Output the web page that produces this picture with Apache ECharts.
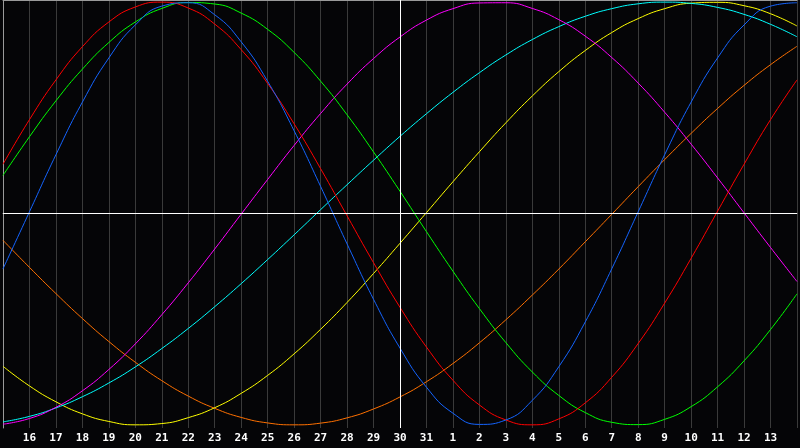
<!DOCTYPE html>
<html>
<head>
<meta charset="utf-8">
<script src="https://cdn.jsdelivr.net/npm/echarts@6/dist/echarts.min.js"></script>
<style>
html,body{margin:0;padding:0;background:#050507;}
#chart{width:800px;height:448px;}
</style>
</head>
<body>
<div id="chart"></div>
<script>
// Day labels along the x axis (left edge = 15, right edge = 14 of next month)
var dayLabels = ['15','16','17','18','19','20','21','22','23','24','25','26','27','28','29','30','31',
                 '1','2','3','4','5','6','7','8','9','10','11','12','13','14'];
var todayLabel = '30';

// Values at each day grid line (-1 .. 1)
var blueValues = [-0.262,0.008,0.278,0.527,0.736,0.892,0.981,0.997,0.940,0.812,0.625,0.391,0.128,-0.144,-0.406,-0.637,-0.822,-0.945,-0.998,-0.977,-0.884,-0.725,-0.513,-0.262,0.008,0.278,0.527,0.736,0.892,0.981,0.997];
var redValues = [0.233,0.444,0.632,0.789,0.906,0.977,1.000,0.972,0.896,0.775,0.615,0.424,0.212,-0.011,-0.233,-0.444,-0.632,-0.789,-0.906,-0.977,-1.000,-0.972,-0.896,-0.775,-0.615,-0.424,-0.212,0.011,0.233,0.444,0.632];
var greenValues = [0.180,0.363,0.533,0.683,0.809,0.906,0.970,0.998,0.991,0.948,0.871,0.762,0.626,0.467,0.291,0.105,-0.086,-0.273,-0.450,-0.611,-0.750,-0.861,-0.942,-0.988,-0.999,-0.974,-0.914,-0.820,-0.697,-0.549,-0.380];
var magentaValues = [-0.997,-0.970,-0.917,-0.839,-0.738,-0.617,-0.479,-0.328,-0.168,-0.003,0.161,0.322,0.473,0.612,0.733,0.835,0.915,0.969,0.996,0.997,0.970,0.917,0.839,0.738,0.617,0.479,0.328,0.168,0.003,-0.161,-0.322];
var yellowValues = [-0.723,-0.816,-0.891,-0.948,-0.984,-1.000,-0.994,-0.966,-0.919,-0.851,-0.766,-0.664,-0.548,-0.421,-0.284,-0.141,0.004,0.150,0.292,0.429,0.556,0.671,0.771,0.856,0.922,0.969,0.995,0.999,0.983,0.945,0.887];
var orangeValues = [-0.127,-0.255,-0.379,-0.497,-0.606,-0.704,-0.791,-0.864,-0.922,-0.965,-0.991,-1.000,-0.992,-0.967,-0.925,-0.868,-0.796,-0.710,-0.612,-0.503,-0.386,-0.263,-0.134,-0.004,0.127,0.255,0.379,0.497,0.606,0.704,0.791];
var cyanValues = [-0.986,-0.960,-0.920,-0.867,-0.802,-0.726,-0.639,-0.544,-0.441,-0.332,-0.218,-0.101,0.018,0.136,0.252,0.365,0.472,0.573,0.666,0.750,0.823,0.884,0.933,0.969,0.992,1.000,0.994,0.975,0.942,0.895,0.836];

function lineSeries(name, data, color) {
  return {
    name: name, type: 'line', data: data, smooth: true, symbol: 'none',
    lineStyle: { color: color, width: 1 }, silent: true, animation: false
  };
}

var chart = echarts.init(document.getElementById('chart'));
var series = [
  lineSeries('orange', orangeValues, '#ff7000'),
  lineSeries('yellow', yellowValues, '#ffff00'),
  lineSeries('cyan', cyanValues, '#00ffff'),
  lineSeries('magenta', magentaValues, '#ff00ff'),
  lineSeries('green', greenValues, '#00ff00'),
  lineSeries('red', redValues, '#ff0000'),
  lineSeries('blue', blueValues, '#1464ff')
];
series[0].markLine = {
  silent: true, symbol: 'none', animation: false,
  label: { show: false },
  lineStyle: { color: '#ffffff', width: 1, type: 'solid' },
  data: [{ yAxis: 0 }, { xAxis: todayLabel }]
};

chart.setOption({
  backgroundColor: '#050507',
  animation: false,
  grid: { left: 0, right: 0, top: 0, bottom: 20 },
  xAxis: [{
    type: 'category', data: dayLabels, boundaryGap: false,
    axisLine: { show: true, lineStyle: { color: '#9a9a9a', width: 1 } },
    axisTick: { show: false },
    axisLabel: {
      interval: 0, color: '#ffffff', fontWeight: 'bold', fontSize: 11,
      fontFamily: 'DejaVu Sans Mono', margin: 5,
      formatter: function (v, idx) { return (idx === 0 || idx === dayLabels.length - 1) ? '' : v; }
    },
    splitLine: { show: true, interval: 0, lineStyle: { color: '#3a3a3a', width: 1 } }
  }, {
    type: 'category', data: dayLabels, boundaryGap: false, position: 'top',
    axisLine: { show: true, lineStyle: { color: '#9a9a9a', width: 1 } },
    axisTick: { show: false }, axisLabel: { show: false }, splitLine: { show: false }
  }],
  yAxis: {
    type: 'value', min: -1.015, max: 1.01,
    axisLine: { show: true, lineStyle: { color: '#9a9a9a', width: 1 } },
    axisTick: { show: false }, axisLabel: { show: false }, splitLine: { show: false }
  },
  series: series
});
</script>
</body>
</html>
